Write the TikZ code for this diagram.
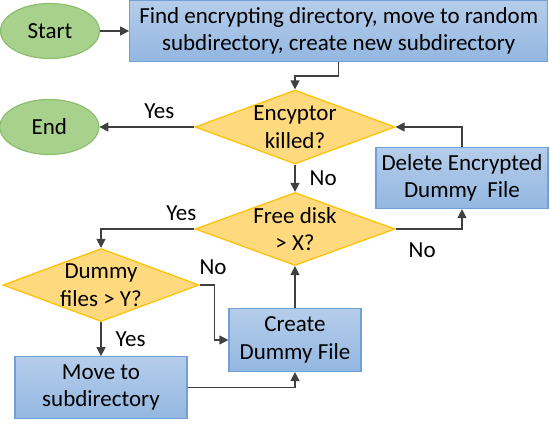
\documentclass[tikz,border=0pt]{standalone}
\usepackage{fontspec}
\setmainfont{Carlito}
\usetikzlibrary{arrows.meta,positioning,shapes.geometric}

\definecolor{termfill}{HTML}{A9D18E}
\definecolor{termline}{HTML}{8CBF6C}
\definecolor{boxtop}{HTML}{B5CDEA}
\definecolor{boxbot}{HTML}{93B7E1}
\definecolor{boxline}{HTML}{6FA0D8}
\definecolor{decfill}{HTML}{FFD97D}
\definecolor{decline}{HTML}{FFC000}
\definecolor{linecol}{HTML}{404040}

\begin{document}
\begin{tikzpicture}[
    x=0.5pt, y=-0.5pt,
    mytext/.style={font=\fontsize{11.5}{13.75}\selectfont},
    myterm/.style={
        ellipse,
        draw=termline,
        fill=termfill,
        line width=0.6pt,
        inner sep=0pt,
        minimum width=49.5pt,
        minimum height=27.5pt,
        mytext},
    mybox/.style={
        rectangle,
        draw=boxline,
        top color=boxtop,
        bottom color=boxbot,
        line width=0.6pt,
        align=center,
        inner sep=2pt,
        mytext},
    mydecision/.style={
        diamond,
        draw=decline,
        fill=decfill,
        line width=0.6pt,
        inner sep=0pt,
        minimum width=100pt,
        minimum height=37pt},
    mydtext/.style={align=center, inner sep=0pt, mytext},
    mylabel/.style={inner sep=1pt, mytext},
    myarrow/.style={-{Triangle[length=4.5pt,width=4.5pt]}, draw=linecol, line width=0.65pt}
    ]
    \useasboundingbox (0,0) rectangle (550,448);

    \node[myterm] (start) at (50,31) {Start};
    \node[mybox,right=14.5pt of start,minimum width=209pt,minimum height=30.5pt] (find)
        {Find encrypting directory, move to random\\subdirectory, create new subdirectory};
    \node[mydecision,label={[mydtext]center:{Encyptor\\killed?}}] (kill) at (295,127) {};
    \node[myterm,left=47.5pt of kill] (stop) {End};
    \node[mybox,minimum width=86pt,minimum height=30.5pt] (delete) at (462,178)
        {Delete Encrypted\\Dummy~ File};
    \node[mydecision,minimum height=36.5pt,label={[mydtext]center:{Free disk\\> X?}}] (disk) at (295,229) {};
    \node[mydecision,minimum width=98pt,minimum height=36.5pt,label={[mydtext]center:{Dummy\\files > Y?}}] (dummy) at (101,285) {};
    \node[mybox,minimum width=66pt,minimum height=31.5pt] (create) at (295,340) {Create\\Dummy File};
    \node[mybox,below=17pt of dummy,minimum width=86pt,minimum height=31pt] (move) {Move to\\subdirectory};

    \foreach \i/\j/\txt/\a/\s/\dx/\dy in {% from/to/text/anchor/pos/xshift/yshift
        kill/stop/Yes/south/0.37/0/3,
        kill/disk/No/west/0.5/6/0,
        dummy/move/Yes/west/0.5/6/0}
        \draw[myarrow] (\i) -- node[mylabel,anchor=\a,pos=\s,xshift=\dx pt,yshift=\dy pt] {\txt} (\j);

    \draw[myarrow] (start) -- (find);
    \draw[myarrow] (find.south) -- ++(0,14) -| (kill.north);
    \draw[myarrow] (disk.west) -| node[mylabel,anchor=south,pos=0.07,yshift=3pt] {Yes} (dummy.north);
    \draw[myarrow] (disk.east) -| node[mylabel,anchor=north,pos=0.2,yshift=-5.5pt] {No} (delete.south);
    \draw[myarrow] (delete.north) |- (kill.east);
    \draw[myarrow] (dummy.east) -- node[mylabel,anchor=south,pos=0.9,yshift=4pt] {No} ++(15,0) |- (create.west);
    \draw[myarrow] (move.east) -| (create.south);
    \draw[myarrow] (create) -- (disk);
\end{tikzpicture}
\end{document}
